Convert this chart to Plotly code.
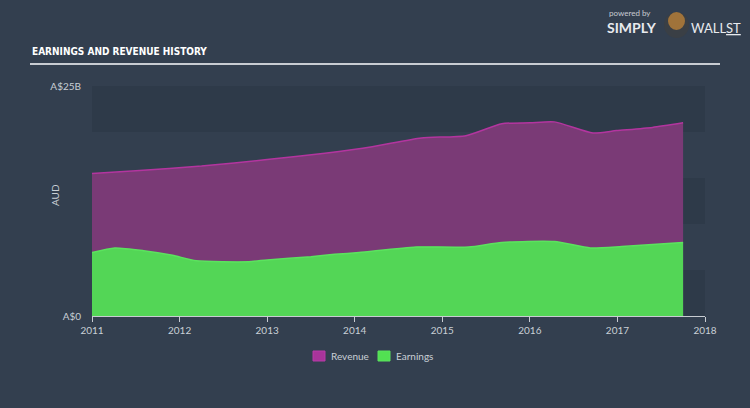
import plotly.graph_objects as go

# Data (A$ billions), decimal years
rev_x = [2011.0, 2011.5, 2012.25, 2013.0, 2013.66, 2014.2, 2014.76, 2015.27, 2015.68, 2016.0, 2016.28, 2016.72, 2016.99, 2017.4, 2017.75]
rev_y = [15.5, 15.8, 16.3, 17.0, 17.7, 18.4, 19.35, 19.6, 20.9, 21.0, 21.1, 19.9, 20.15, 20.5, 21.0]
earn_x = [2011.0, 2011.26, 2011.59, 2011.92, 2012.19, 2012.79, 2013.0, 2013.5, 2013.77, 2014.05, 2014.7, 2015.3, 2015.68, 2016.28, 2016.69, 2017.05, 2017.75]
earn_y = [6.9, 7.4, 7.1, 6.6, 6.0, 5.9, 6.1, 6.45, 6.7, 6.9, 7.5, 7.5, 8.0, 8.1, 7.4, 7.55, 8.0]
years = [2011, 2012, 2013, 2014, 2015, 2016, 2017, 2018]
series_names = ["Revenue", "Earnings"]

BG = "#333f4f"
BAND = "#2e3a49"
TXT = "#c9cfd6"
REV_LINE, REV_FILL = "#b3359f", "#7a3a76"
EARN_LINE, EARN_FILL = "#5be35e", "#53d656"

# plot area in pixels: x 92..705, y 86..316
L, R, T, B = 92, 705, 86, 316
def px(x):
    return (x - L) / (R - L)
def py(y):
    return (B - y) / (B - T)

fig = go.Figure()
fig.add_trace(go.Scatter(x=rev_x, y=rev_y, name=series_names[0], mode="lines", showlegend=False,
                         line=dict(color=REV_LINE, width=1.5, shape="spline", smoothing=0.6),
                         fill="tozeroy", fillcolor=REV_FILL))
fig.add_trace(go.Scatter(x=earn_x, y=earn_y, name=series_names[1], mode="lines", showlegend=False,
                         line=dict(color=EARN_LINE, width=1.5, shape="spline", smoothing=0.6),
                         fill="tozeroy", fillcolor=EARN_FILL))

shapes = []
for y0 in (0, 10, 20):
    shapes.append(dict(type="rect", xref="x", yref="y", x0=2011, x1=2018, y0=y0, y1=y0 + 5,
                       fillcolor=BAND, line=dict(width=0), layer="below"))
# title underline
shapes.append(dict(type="line", xref="paper", yref="paper", x0=px(30), x1=px(720), y0=py(64), y1=py(64),
                   line=dict(color="#c8ccd2", width=2)))
# legend swatches
shapes.append(dict(type="rect", xref="paper", yref="paper", x0=px(313), x1=px(325), y0=py(361), y1=py(351),
                   fillcolor="#a8349a", line=dict(color="#b83aa8", width=1)))
shapes.append(dict(type="rect", xref="paper", yref="paper", x0=px(378), x1=px(390), y0=py(361), y1=py(351),
                   fillcolor="#52e052", line=dict(color="#5be35e", width=1)))
# logo badge
shapes.append(dict(type="circle", xref="paper", yref="paper", x0=px(664), x1=px(689), y0=py(38), y1=py(12),
                   fillcolor="#3a3f45", line=dict(width=0)))
shapes.append(dict(type="circle", xref="paper", yref="paper", x0=px(668), x1=px(685), y0=py(30), y1=py(12),
                   fillcolor="#a0733a", line=dict(width=0)))
fig.update_layout(shapes=shapes)

ann = [
    dict(text="<span style=\"font-stretch:condensed\"><b>EARNINGS AND REVENUE HISTORY</b></span>",
         x=px(30), y=py(52), xanchor="left", yanchor="middle",
         font=dict(family="Liberation Sans Narrow, DejaVu Sans", size=10, color="#ffffff")),
    dict(text="powered by", x=px(607), y=py(13), xanchor="left", yanchor="middle",
         font=dict(size=8, color="#c8ccd2")),
    dict(text="<b>SIMPLY</b>", x=px(605), y=py(28), xanchor="left", yanchor="middle",
         font=dict(size=14, color="#e8eaee")),
    dict(text="WALL<u>ST</u>", x=px(689), y=py(28), xanchor="left", yanchor="middle",
         font=dict(size=13, color="#e8eaee")),
    dict(text="AUD", x=px(55), y=py(195), xanchor="center", yanchor="middle", textangle=-90,
         font=dict(size=10, color=TXT)),
    dict(text=series_names[0], x=px(329), y=py(356), xanchor="left", yanchor="middle",
         font=dict(size=10, color=TXT)),
    dict(text=series_names[1], x=px(394), y=py(356), xanchor="left", yanchor="middle",
         font=dict(size=10, color=TXT)),
]
for a in ann:
    a.update(xref="paper", yref="paper", showarrow=False)

fig.update_layout(
    width=750, height=408,
    paper_bgcolor=BG, plot_bgcolor=BG,
    margin=dict(l=L, r=750 - R, t=T, b=408 - B),
    font=dict(family="Lato, sans-serif", color=TXT, size=10),
    showlegend=False,
    xaxis=dict(range=[2011, 2018], tickvals=years, ticktext=[str(y) for y in years],
               showgrid=False, zeroline=False, showline=True, linecolor="#c8ccd2", linewidth=1,
               ticks="outside", ticklen=5, tickcolor="#c8ccd2", tickfont=dict(size=10, color=TXT)),
    yaxis=dict(range=[0, 25], tickvals=[0, 25], ticktext=["A$0", "A$25B"], showgrid=False,
               zeroline=False, showline=False, tickfont=dict(size=10, color=TXT),
               ticklabelstandoff=10),
    annotations=ann,
)

fig.write_html("out.html")
